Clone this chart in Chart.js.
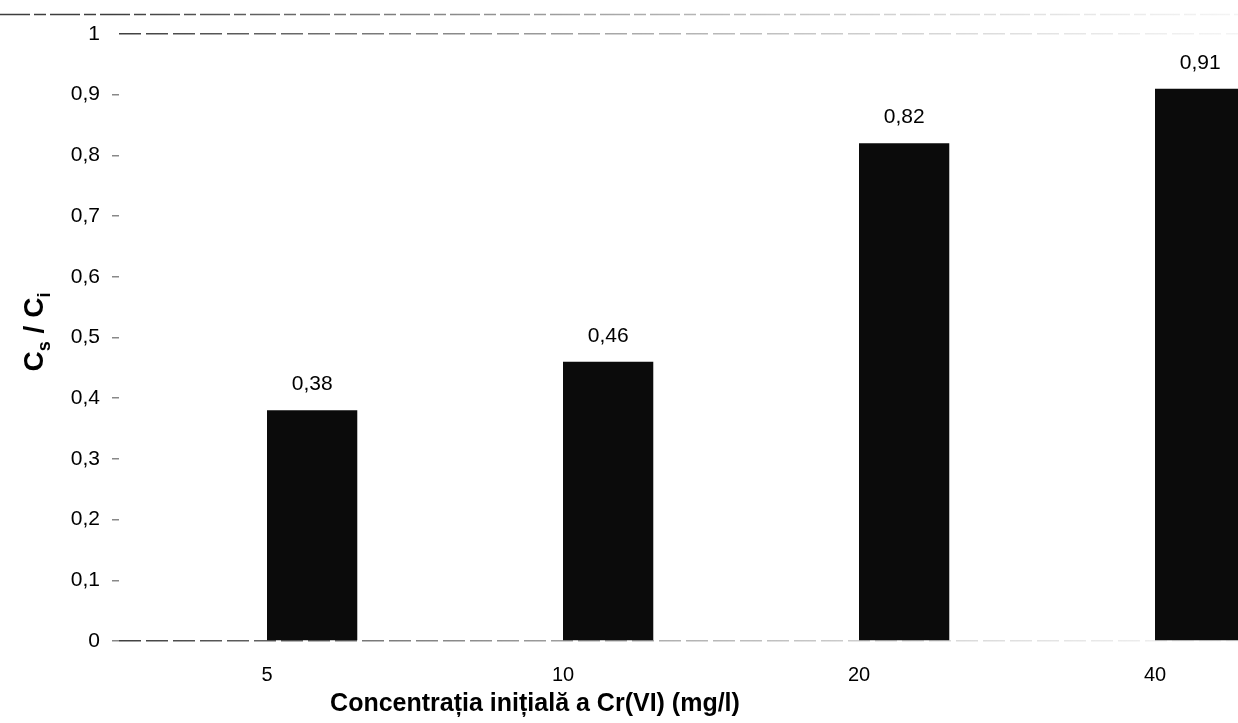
<!DOCTYPE html>
<html>
<head>
<meta charset="utf-8">
<script src="https://cdn.jsdelivr.net/npm/chart.js@4"></script>
<style>
  html, body { margin: 0; padding: 0; background: #fff; overflow: hidden; }
  #wrap { position: relative; width: 1310px; height: 723px; }
</style>
</head>
<body>
<div id="wrap"><canvas id="ratioChart"></canvas></div>
<script>
const categories = ['5', '10', '20', '40'];
const ratioValues = [0.38, 0.46, 0.82, 0.91];
// empty companion series, keeps the black bars to the right of each label
const hiddenValues = [null, null, null, null];
const xTitle = 'Concentrația inițială a Cr(VI) (mg/l)';

const FONT = '"Liberation Sans", Arial, sans-serif';

function comma(v, digits) {
    return String(+v.toFixed(digits)).replace('.', ',');
}

// scanned lines fade out towards the right
function fadeLine(ctx) {
    const g = ctx.createLinearGradient(110, 0, 1238, 0);
    g.addColorStop(0, 'rgba(40,40,40,0.9)');
    g.addColorStop(0.45, 'rgba(110,110,110,0.6)');
    g.addColorStop(1, 'rgba(180,180,180,0.15)');
    return g;
}

// value labels above the bars + axis titles (y title needs subscripts)
const extrasPlugin = {
    id: 'extras',
    afterDatasetsDraw(chart) {
        const ctx = chart.ctx;
        const area = chart.chartArea;
        ctx.save();
        ctx.fillStyle = '#000';
        ctx.font = '21px ' + FONT;
        ctx.textAlign = 'center';
        ctx.textBaseline = 'alphabetic';
        chart.getDatasetMeta(1).data.forEach((bar, i) => {
            ctx.fillText(ratioValues[i].toFixed(2).replace('.', ','), bar.x, bar.y - 20);
        });

        // x axis title
        ctx.font = 'bold 25px ' + FONT;
        ctx.textBaseline = 'middle';
        ctx.fillText(xTitle, area.left + 416, 704);

        // y axis title "Cs / Ci"
        ctx.translate(33, 332);
        ctx.rotate(-Math.PI / 2);
        ctx.textAlign = 'left';
        ctx.textBaseline = 'alphabetic';
        const big = 'bold 28px ' + FONT;
        const small = 'bold 18px ' + FONT;
        const parts = [['C', big, 0], ['s', small, 7], [' / C', big, 0], ['i', small, 7]];
        let w = 0;
        parts.forEach(p => { ctx.font = p[1]; w += ctx.measureText(p[0]).width; });
        let x = -w / 2;
        parts.forEach(p => {
            ctx.font = p[1];
            ctx.fillText(p[0], x, 10 + p[2]);
            x += ctx.measureText(p[0]).width;
        });
        ctx.restore();

        // faint frame line above the plot
        ctx.save();
        ctx.strokeStyle = fadeLine(ctx);
        ctx.lineWidth = 1.5;
        ctx.setLineDash([30, 4, 12, 4]);
        ctx.beginPath();
        ctx.moveTo(0, 14.5);
        ctx.lineTo(1238, 14.5);
        ctx.stroke();
        ctx.restore();
    }
};

new Chart(document.getElementById('ratioChart').getContext('2d'), {
    type: 'bar',
    data: {
        labels: categories,
        datasets: [{
            label: 'Ci',
            data: hiddenValues,
            backgroundColor: 'rgba(0,0,0,0)',
            barPercentage: 1,
            categoryPercentage: 0.61
        }, {
            label: 'Cs / Ci',
            data: ratioValues,
            backgroundColor: '#0b0b0b',
            borderWidth: 0,
            barPercentage: 1,
            categoryPercentage: 0.61
        }]
    },
    options: {
        responsive: true,
        maintainAspectRatio: false,
        animation: false,
        layout: { padding: { top: 34, right: 7, left: 0, bottom: 0 } },
        plugins: {
            legend: { display: false },
            tooltip: { enabled: false }
        },
        scales: {
            x: {
                grid: { display: false, drawTicks: false },
                border: { display: false },
                ticks: {
                    color: '#000',
                    padding: 22,
                    font: { family: FONT, size: 20 }
                },
                afterFit(scale) { scale.height = 82; }
            },
            y: {
                min: 0,
                max: 1,
                ticks: {
                    stepSize: 0.1,
                    color: '#000',
                    padding: 12,
                    font: { family: FONT, size: 21 },
                    callback: v => comma(v, 1)
                },
                grid: {
                    color: c => (c.tick && (c.tick.value === 0 || c.tick.value === 1)) ? fadeLine(c.chart.ctx) : 'rgba(0,0,0,0)',
                    tickColor: c => (c.tick && c.tick.value === 1) ? 'rgba(0,0,0,0)' : '#888',
                    tickLength: 7,
                    lineWidth: 1.5
                },
                border: { display: false, dash: [22, 5] },
                afterFit(scale) { scale.width = 119; }
            }
        }
    },
    plugins: [extrasPlugin]
});
</script>
</body>
</html>
